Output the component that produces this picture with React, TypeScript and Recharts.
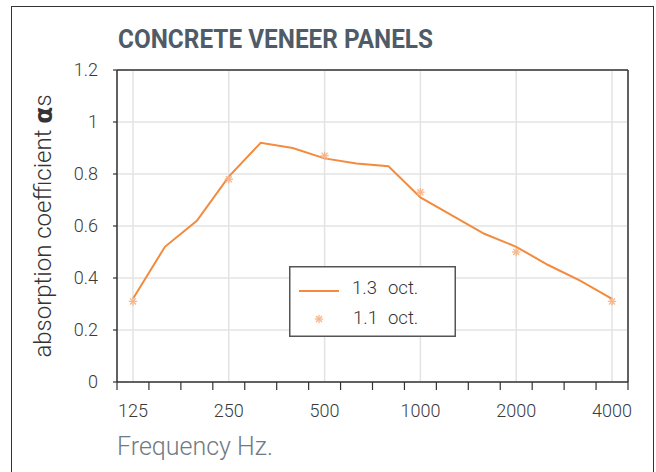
import { ComposedChart, Line, Scatter, XAxis, YAxis, CartesianGrid, Legend } from 'recharts';

// 1/3 octave bands and the measured values
const bands = ['125', '160', '200', '250', '315', '400', '500', '630', '800', '1000', '1250', '1600', '2000', '2500', '3150', '4000'];
const thirdOctave = [0.32, 0.52, 0.62, 0.79, 0.92, 0.9, 0.86, 0.84, 0.83, 0.71, 0.64, 0.57, 0.52, 0.45, 0.39, 0.32];

// 1/1 octave bands
const octaveBands = ['125', '250', '500', '1000', '2000', '4000'];
const octave = [0.31, 0.78, 0.87, 0.73, 0.5, 0.31];

const yTicks = [0, 0.2, 0.4, 0.6, 0.8, 1, 1.2];

const lineData = bands.map((b, i) => ({ band: b, pos: i + 0.5, third: thirdOctave[i] }));
const octaveData = octaveBands.map((b, k) => ({ band: b, pos: bands.indexOf(b) + 0.5, octave: octave[k] }));
const labelTicks = octaveBands.map(b => bands.indexOf(b) + 0.5);
const edgeTicks = bands.map((_, i) => i).concat(bands.length);

const LINE_COLOR = '#F28B3E';
const STAR_COLOR = '#F7B68A';
const AXIS_COLOR = '#333';
const FONT = 'Roboto, sans-serif';

function Asterisk({ cx, cy }: { cx?: number; cy?: number }) {
  if (cx == null || cy == null) return null;
  const r = 4.2;
  const d = r * 0.72;
  return (
    <g stroke={STAR_COLOR} strokeWidth={1.3}>
      <line x1={cx} y1={cy - r} x2={cx} y2={cy + r} />
      <line x1={cx - r} y1={cy} x2={cx + r} y2={cy} />
      <line x1={cx - d} y1={cy - d} x2={cx + d} y2={cy + d} />
      <line x1={cx - d} y1={cy + d} x2={cx + d} y2={cy - d} />
    </g>
  );
}

function LegendBox() {
  const txt = { fontFamily: FONT, fontSize: 18.5, fontWeight: 300, fill: '#333' };
  return (
    <svg width={167} height={71} style={{ display: 'block' }}>
      <rect x={0.75} y={0.75} width={165.5} height={69.5} fill="#fff" stroke="#555" strokeWidth={1.5} />
      <line x1={10} y1={25} x2={50} y2={25} stroke={LINE_COLOR} strokeWidth={2} />
      <text x={63} y={28} {...txt}>1.3</text>
      <text x={99} y={28} {...txt}>oct.</text>
      <Asterisk cx={30} cy={53} />
      <text x={64} y={58} {...txt}>1.1</text>
      <text x={99} y={58} {...txt}>oct.</text>
    </svg>
  );
}

const NoLabel = () => <g />;

export default function App() {
  const tickStyle = { fontFamily: FONT, fontSize: 18, fontWeight: 300, fill: '#3a3a3a' };
  return (
    <div style={{ position: 'absolute', left: 0, top: 0, width: 656, height: 472, background: '#fff' }}>
      <div style={{ position: 'absolute', left: 11, top: 6, width: 641, height: 480, borderLeft: '1.5px solid #333', borderTop: '1.5px solid #333', borderRight: '1.5px solid #333' }} />
      <ComposedChart width={656} height={472} data={lineData} margin={{ top: 69, right: 27, bottom: 49, left: 0 }}>
        <CartesianGrid xAxisId="lab" yAxisId="left" stroke="#e3e3e3" strokeWidth={1.5} />
        <XAxis xAxisId="edge" type="number" dataKey="pos" domain={[0, 16]} ticks={edgeTicks} tick={<NoLabel />} tickSize={8} height={1}
          allowDataOverflow axisLine={{ stroke: AXIS_COLOR, strokeWidth: 1.5 }} tickLine={{ stroke: AXIS_COLOR, strokeWidth: 1.2 }} />
        <XAxis xAxisId="lab" type="number" dataKey="pos" domain={[0, 16]} ticks={labelTicks} allowDataOverflow
          tickFormatter={(v: number) => bands[Math.round(v - 0.5)]} axisLine={false} tickLine={false} height={40}
          tickSize={6} tickMargin={15} tick={tickStyle} />
        <XAxis xAxisId="top" orientation="top" type="number" domain={[0, 16]} allowDataOverflow tick={false} tickLine={false}
          height={1} axisLine={{ stroke: AXIS_COLOR, strokeWidth: 1.5 }} />
        <YAxis yAxisId="left" domain={[0, 1.2]} ticks={yTicks} width={117} tickSize={4} tickMargin={15} tick={tickStyle}
          axisLine={{ stroke: AXIS_COLOR, strokeWidth: 1.5 }} tickLine={{ stroke: AXIS_COLOR, strokeWidth: 1.2 }} />
        <YAxis yAxisId="right" orientation="right" domain={[0, 1.2]} tick={false} tickLine={false} width={1}
          axisLine={{ stroke: AXIS_COLOR, strokeWidth: 1.5 }} />
        <Line xAxisId="lab" yAxisId="left" type="linear" dataKey="third" stroke={LINE_COLOR} strokeWidth={2}
          dot={false} activeDot={false} isAnimationActive={false} />
        <Scatter xAxisId="lab" yAxisId="left" data={octaveData} dataKey="octave" shape={<Asterisk />} isAnimationActive={false} />
        <Legend layout="horizontal" verticalAlign="middle" align="center"
          wrapperStyle={{ left: 289, top: 266, width: 167, height: 71 }} content={() => <LegendBox />} />
      </ComposedChart>
      <svg width={656} height={472} style={{ position: 'absolute', left: 0, top: 0, pointerEvents: 'none' }}>
        <text x={118} y={48} textLength={315} lengthAdjust="spacingAndGlyphs"
          style={{ fontFamily: FONT, fontSize: 26, fontWeight: 700, fill: '#4f5b66' }}>CONCRETE VENEER PANELS</text>
        <text x={43} y={226} textAnchor="middle" dominantBaseline="central" transform="rotate(-90, 43, 226)"
          style={{ fontFamily: FONT, fontSize: 24, fontWeight: 300, fill: '#333' }}>
          absorption coefficient <tspan style={{ fontFamily: 'DejaVu Sans, sans-serif', fontWeight: 700, fontSize: 25 }}>α</tspan>s
        </text>
        <text x={117} y={455} style={{ fontFamily: FONT, fontSize: 25, fontWeight: 300, fill: '#6f7a84' }}>Frequency Hz.</text>
      </svg>
    </div>
  );
}
